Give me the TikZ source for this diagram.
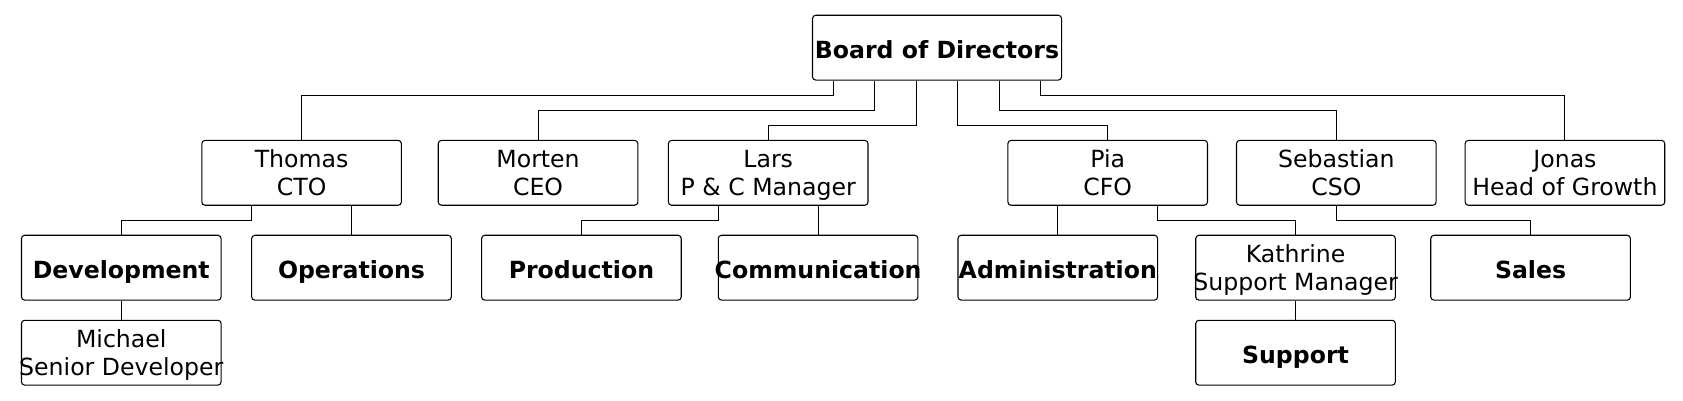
\documentclass[tikz,border=0pt]{standalone}
\usepackage{fontspec}
\setmainfont{DejaVu Sans}
\newcommand\htstrut{\rule{0pt}{20.4pt}}
\newcommand\dpstrut{\rule[-5.2pt]{0pt}{5.2pt}}
\begin{document}
\begin{tikzpicture}[x=1pt,y=-1pt,
  box/.style={draw, line width=1pt, rounded corners=3pt, minimum width=186pt, minimum height=60.4pt, inner sep=0pt},
  txt/.style={align=center, inner sep=0pt, yshift=-2.5pt, font=\fontsize{22pt}{26.5pt}\selectfont,
    execute at begin node=\htstrut, execute at end node=\dpstrut},
  btxt/.style={txt, font=\fontsize{22pt}{26.5pt}\selectfont\bfseries},
  conn/.style={draw, line width=1pt}]
\useasboundingbox (0,0) rectangle (1568,373);
% level 0
\node[box, minimum width=232pt] (board) at (873,44.4) {};
\node[btxt] (tboard) at (board.center) {Board of Directors};
% level 1
\node[box] (thomas) at (281,161) {};
\node[txt] (tthomas) at (thomas.center) {Thomas\\CTO};
\node[box] (morten) at (501.3,161) {};
\node[txt] (tmorten) at (morten.center) {Morten\\CEO};
\node[box] (lars) at (715.7,161) {};
\node[txt] (tlars) at (lars.center) {Lars\\P \& C Manager};
\node[box] (pia) at (1032,161) {};
\node[txt] (tpia) at (pia.center) {Pia\\CFO};
\node[box] (seb) at (1245,161) {};
\node[txt] (tseb) at (seb.center) {Sebastian\\CSO};
\node[box] (jonas) at (1458,161) {};
\node[txt] (tjonas) at (jonas.center) {Jonas\\Head of Growth};
% level 2
\node[box] (dev) at (113,249.4) {};
\node[btxt] (tdev) at (dev.center) {Development};
\node[box] (ops) at (327.5,249.4) {};
\node[btxt] (tops) at (ops.center) {Operations};
\node[box] (prod) at (541.7,249.4) {};
\node[btxt] (tprod) at (prod.center) {Production};
\node[box] (comm) at (762.2,249.4) {};
\node[btxt] (tcomm) at (comm.center) {Communication};
\node[box] (admin) at (985.5,249.4) {};
\node[btxt] (tadmin) at (admin.center) {Administration};
\node[box] (kath) at (1207,249.4) {};
\node[txt] (tkath) at (kath.center) {Kathrine\\Support Manager};
\node[box] (sales) at (1426,249.4) {};
\node[btxt] (tsales) at (sales.center) {Sales};
% level 3
\node[box] (mich) at (113,328.6) {};
\node[txt] (tmich) at (mich.center) {Michael\\Senior Developer};
\node[box] (supp) at (1207,328.6) {};
\node[btxt] (tsupp) at (supp.center) {Support};
% levels
\coordinate (la) at (0,88.8);
\coordinate (lb) at (0,102.95);
\coordinate (lc) at (0,116.8);
\coordinate (ld) at (0,205.3);
% board ports
\coordinate (b1) at ([xshift=-96.7pt]board.south);
\coordinate (b2) at ([xshift=-58pt]board.south);
\coordinate (b3) at ([xshift=-19.3pt]board.south);
\coordinate (b4) at ([xshift=19.3pt]board.south);
\coordinate (b5) at ([xshift=58pt]board.south);
\coordinate (b6) at ([xshift=96.7pt]board.south);
\draw[conn] (b1) -- (b1 |- la) -| (thomas.north);
\draw[conn] (b2) -- (b2 |- lb) -| (morten.north);
\draw[conn] (b3) -- (b3 |- lc) -| (lars.north);
\draw[conn] (b4) -- (b4 |- lc) -| (pia.north);
\draw[conn] (b5) -- (b5 |- lb) -| (seb.north);
\draw[conn] (b6) -- (b6 |- la) -| (jonas.north);
% level 1 ports
\coordinate (t1) at ([xshift=-46.5pt]thomas.south);
\coordinate (l1) at ([xshift=-46.5pt]lars.south);
\coordinate (p2) at ([xshift=46.5pt]pia.south);
\draw[conn] (t1) -- (t1 |- ld) -| (dev.north);
\draw[conn] ([xshift=46.5pt]thomas.south) -- (ops.north);
\draw[conn] (l1) -- (l1 |- ld) -| (prod.north);
\draw[conn] ([xshift=46.5pt]lars.south) -- (comm.north);
\draw[conn] ([xshift=-46.5pt]pia.south) -- (admin.north);
\draw[conn] (p2) -- (p2 |- ld) -| (kath.north);
\draw[conn] (seb.south) -- (seb.south |- ld) -| (sales.north);
% level 2 ports
\draw[conn] (dev.south) -- (mich.north);
\draw[conn] (kath.south) -- (supp.north);
\end{tikzpicture}
\end{document}
